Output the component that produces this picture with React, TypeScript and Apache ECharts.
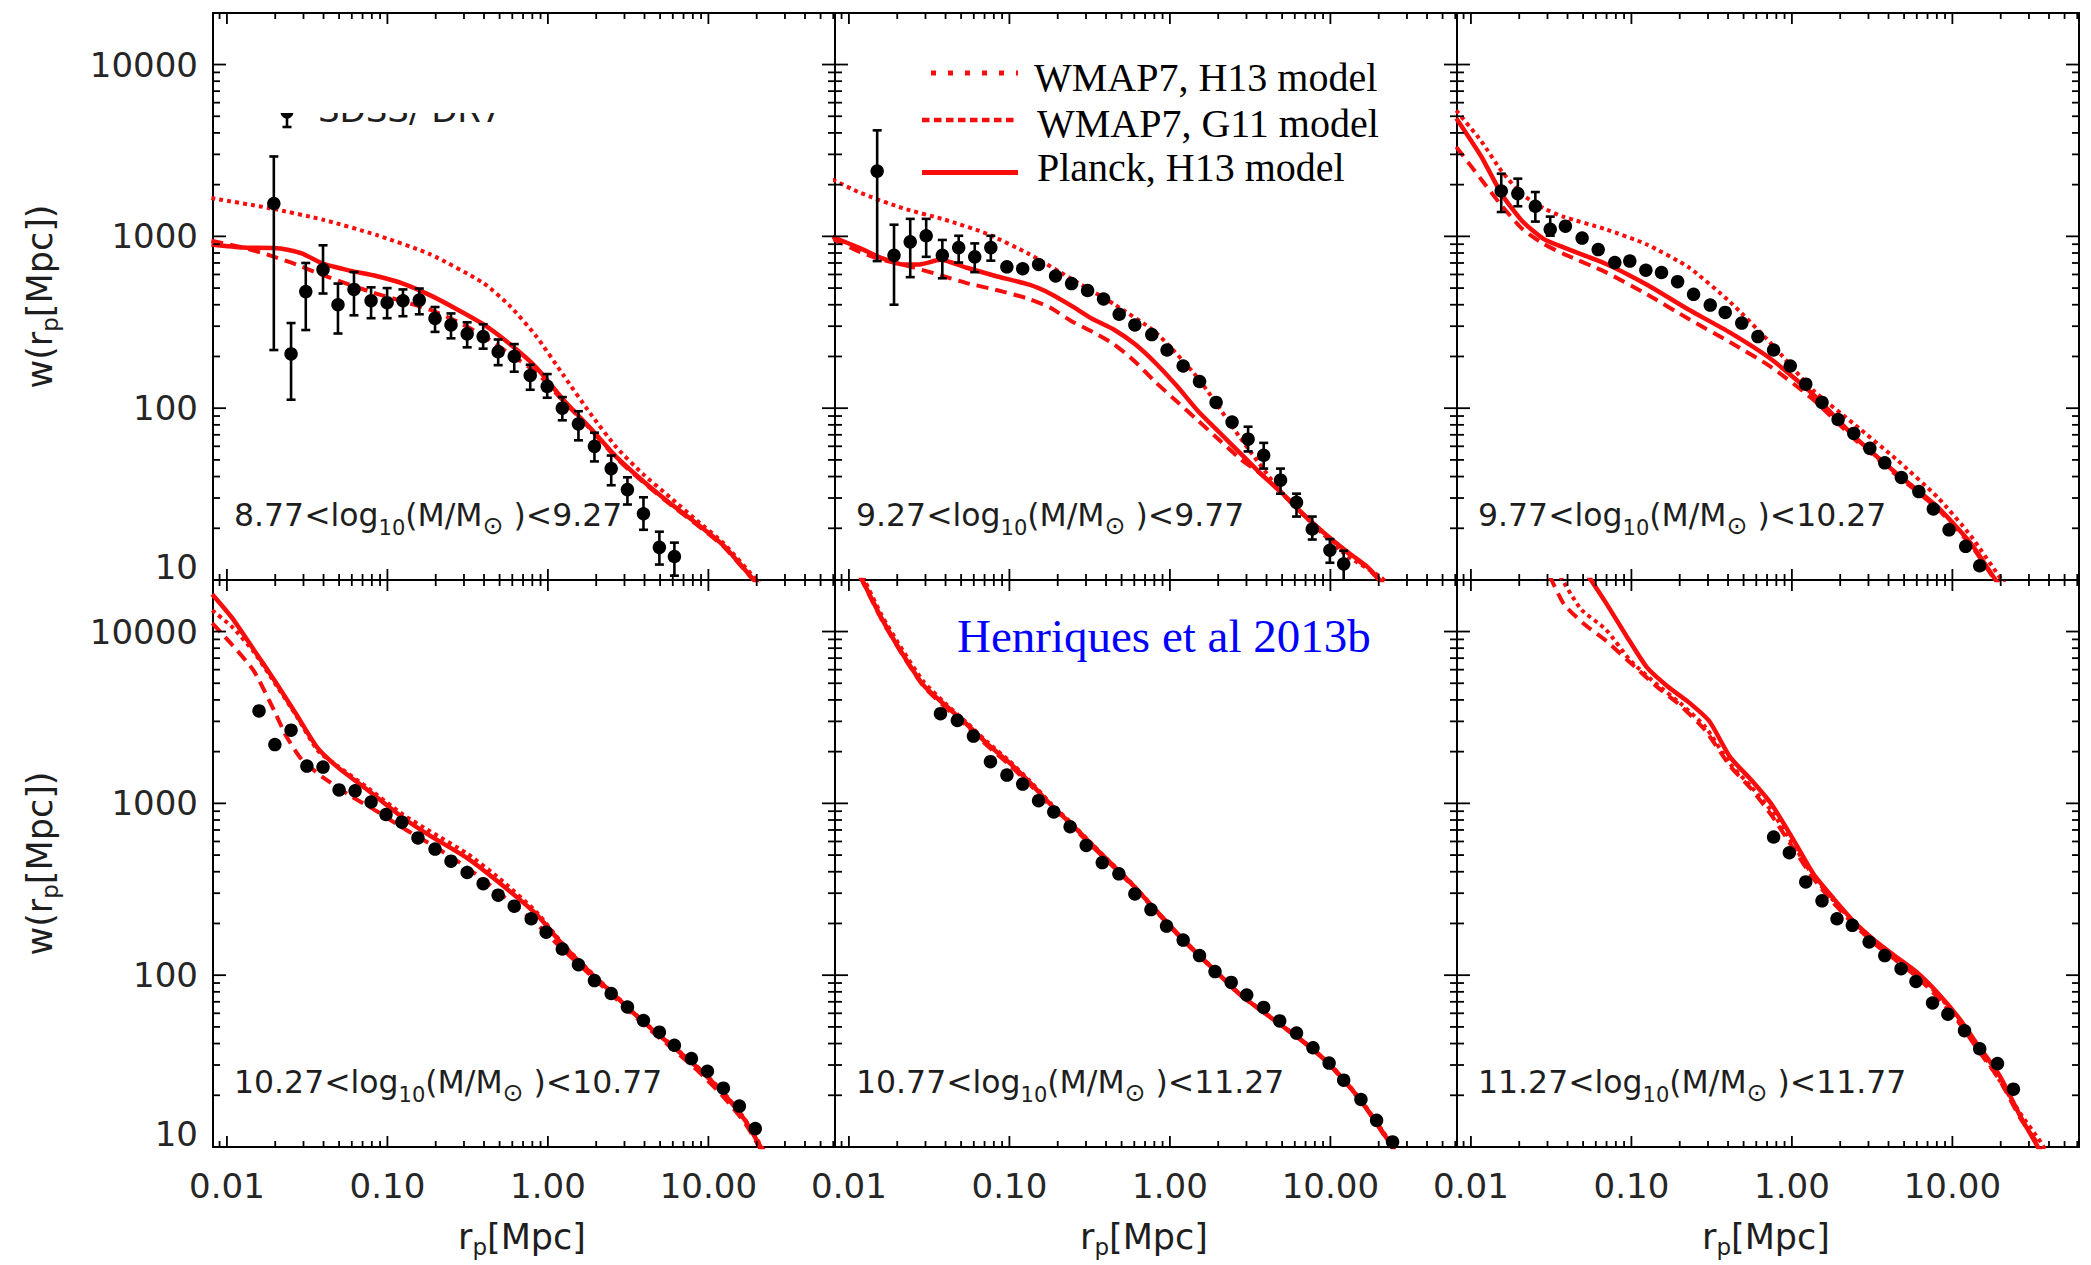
import React, { useEffect, useRef } from "react";
import * as echarts from "echarts";

// ---------- styling constants ----------
const RED = "#f80d0d";
const INK = "#1e1e1e";
const SANS = "'DejaVu Sans', 'Liberation Sans', sans-serif";
const SERIF = "'Liberation Serif', 'Times New Roman', serif";

// ---------- axes ----------
const X_MIN = 0.00819;
const X_MAX = 61.5;
const Y_MIN = 10;
const Y_MAX = 19950;
const X_TICK_LABELS = ["0.01", "0.10", "1.00", "10.00"];
const Y_TICK_LABELS = ["10", "100", "1000", "10000"];
const X_MAJOR = [0.01, 0.1, 1, 10];
const Y_MAJOR = [10, 100, 1000, 10000];

// ---------- panel labels ----------
const BIN_LO = ["8.77", "9.27", "9.77", "10.27", "10.77", "11.27"];
const BIN_HI = ["9.27", "9.77", "10.27", "10.77", "11.27", "11.77"];
const LEGEND_TEXT = ["WMAP7, H13 model", "WMAP7, G11 model", "Planck, H13 model"];
const CREDIT = "Henriques et al 2013b";
const DATA_LABEL = "SDSS/ DR7";

// ---------- panel 1 : 8.77-9.27 ----------
const P1_R = [0.0196, 0.0251, 0.031, 0.0397, 0.0492, 0.0619, 0.0791, 0.0996, 0.125, 0.158, 0.198, 0.249, 0.314, 0.395, 0.49, 0.617, 0.776, 0.99, 1.23, 1.55, 1.95, 2.48, 3.13, 3.94, 4.95, 6.14];
const P1_W = [1553, 207, 477, 641, 400, 491, 422, 411, 422, 426, 333, 305, 271, 261, 213, 200, 155, 134, 100, 81, 60, 44.5, 33.6, 24.3, 15.5, 13.7];
const P1_LO = [218, 112, 285, 465, 272, 347, 334, 334, 343, 352, 278, 255, 226, 222, 178, 163, 128, 115, 85, 65, 49, 35.6, 27.5, 19.6, 12.3, 10.6];
const P1_HI = [2917, 313, 700, 887, 531, 620, 505, 500, 491, 497, 388, 356, 316, 308, 251, 236, 179, 158, 116, 96, 72, 53, 39.6, 30.3, 19.1, 16.5];
const P1_DOT = [[0.008, 1670], [0.01845, 1459], [0.0397, 1250], [0.0853, 1019], [0.184, 788], [0.395, 536], [0.579, 394], [0.849, 261], [1.247, 156], [1.83, 93.6], [2.68, 59], [3.93, 41.2], [5.77, 30.3], [8.46, 22.2], [12.4, 16.4], [19.95, 10], [22, 9]];
const P1_DASH = [[0.008, 944], [0.0126, 860], [0.01845, 776], [0.027, 686], [0.0397, 594], [0.0582, 523], [0.0853, 464], [0.125, 419], [0.184, 374], [0.269, 321], [0.395, 264], [0.579, 207], [0.849, 161], [1.247, 110], [1.83, 76], [2.68, 51], [3.93, 37], [5.77, 27.6], [8.46, 21], [12.4, 15.7], [18.2, 10.5], [20.5, 9.4]];
const P1_SOLID = [[0.008, 896], [0.0126, 860], [0.0215, 851], [0.0292, 796], [0.0397, 693], [0.0582, 632], [0.0853, 588], [0.125, 531], [0.184, 455], [0.269, 378], [0.395, 308], [0.579, 236], [0.849, 172], [1.247, 112], [1.83, 77], [2.68, 51.9], [3.93, 37.6], [5.77, 28.0], [8.46, 21.3], [12.4, 15.9], [18.2, 10.6], [20.5, 9.5]];

// ---------- panel 2 : 9.27-9.77 ----------
const P2_R = [0.015, 0.0191, 0.0241, 0.0303, 0.0382, 0.0483, 0.0608, 0.0766, 0.0964, 0.121, 0.152, 0.194, 0.244, 0.307, 0.386, 0.483, 0.605, 0.771, 0.96, 1.21, 1.53, 1.94, 2.44, 3.07, 3.84, 4.89, 6.15, 7.71, 9.93, 12.1];
const P2_W = [2399, 776, 929, 1008, 776, 860, 760, 860, 665, 648, 686, 588, 531, 484, 432, 352, 305, 268, 218, 176, 143, 108, 83, 66, 53.2, 38.1, 28.3, 19.8, 14.9, 12.4];
const P2_LO = [718, 400, 579, 760, 570, 704, 619, 722, null, null, null, null, null, null, null, null, null, null, null, null, null, null, null, 56, 44.5, 31.8, 23.4, 17.2, 12.6, 9];
const P2_HI = [4140, 1169, 1264, 1264, 953, 1008, 910, 1008, null, null, null, null, null, null, null, null, null, null, null, null, null, null, null, 78, 62.8, 44.5, 31.8, 23.4, 17.3, 14.8];
const P2_DOT = [[0.0079, 2143], [0.01178, 1791], [0.0216, 1459], [0.0395, 1251], [0.0726, 1035], [0.133, 788], [0.244, 565], [0.447, 404], [0.819, 275], [1.5, 149], [2.75, 67], [5.04, 31.8], [9.25, 18.1], [12.5, 14.0], [20.9, 10.3], [23, 9.3]];
const P2_DASH = [[0.0079, 968], [0.01178, 809], [0.01596, 730], [0.0216, 686], [0.0372, 594], [0.0536, 536], [0.0819, 489], [0.133, 432], [0.18, 384], [0.244, 321], [0.33, 278], [0.447, 236], [0.605, 187], [0.819, 141], [1.11, 109], [1.5, 84.5], [2.03, 65.3], [2.75, 50.6], [3.72, 41.2], [5.04, 31.5], [6.83, 23.8], [9.25, 18.4], [12.5, 14.6], [16.9, 11.8], [20.3, 9.9], [22, 9.1]];
const P2_SOLID = [[0.0079, 993], [0.01178, 851], [0.01596, 748], [0.0216, 686], [0.0275, 686], [0.0372, 730], [0.0536, 659], [0.0819, 588], [0.133, 523], [0.18, 464], [0.244, 394], [0.33, 330], [0.447, 287], [0.605, 236], [0.819, 182], [1.11, 134], [1.5, 96], [2.03, 72.4], [2.75, 54.6], [3.72, 41.2], [5.04, 31.8], [6.83, 24], [9.25, 18.6], [12.5, 14.8], [16.9, 12], [20.3, 10], [22, 9.2]];

// ---------- panel 3 : 9.77-10.27 ----------
const P3_R = [0.01545, 0.0196, 0.0252, 0.0312, 0.0388, 0.0493, 0.0621, 0.0788, 0.0977, 0.123, 0.154, 0.194, 0.244, 0.31, 0.384, 0.487, 0.614, 0.769, 0.977, 1.22, 1.54, 1.94, 2.43, 3.06, 3.79, 4.81, 6.18, 7.61, 9.53, 12.1, 14.8];
const P3_W = [1837, 1774, 1497, 1099, 1146, 977, 838, 704, 718, 635, 616, 545, 460, 398, 361, 313, 261, 218, 176, 138, 108, 85.9, 71.3, 58.4, 48.1, 39.5, 32.7, 25.9, 19.6, 15.7, 12.1];
const P3_LO = [1386, 1497, 1219, 1009];
const P3_HI = [2316, 2167, 1811, 1303];
const P3_DOT = [[0.0081, 5405], [0.0116, 3581], [0.01563, 2376], [0.021, 1746], [0.0283, 1459], [0.0381, 1296], [0.0691, 1100], [0.125, 896], [0.228, 659], [0.412, 415], [0.747, 236], [1.36, 127], [2.46, 80.3], [4.45, 50.6], [8.08, 30.3], [13, 18.1], [20.3, 10], [22, 9.2]];
const P3_DASH = [[0.0081, 3318], [0.0116, 2145], [0.01563, 1497], [0.021, 1100], [0.0283, 905], [0.0381, 788], [0.0691, 619], [0.125, 460], [0.228, 330], [0.412, 242], [0.747, 173], [1.36, 112], [2.46, 66], [4.45, 41], [8.08, 26], [13, 16], [18.4, 10], [20, 9.1]];
const P3_SOLID = [[0.0081, 4875], [0.0116, 2917], [0.01563, 1746], [0.021, 1219], [0.0283, 968], [0.0381, 860], [0.0691, 693], [0.125, 523], [0.228, 374], [0.412, 275], [0.747, 192], [1.36, 120], [2.46, 68], [4.45, 42], [8.08, 26.6], [13, 16.4], [18.6, 10], [20, 9.2]];

// ---------- panel 4 : 10.27-10.77 ----------
const P4_R = [0.01585, 0.0199, 0.0251, 0.0315, 0.0397, 0.05, 0.0629, 0.0791, 0.098, 0.123, 0.155, 0.198, 0.249, 0.314, 0.395, 0.49, 0.617, 0.787, 0.975, 1.23, 1.55, 1.95, 2.48, 3.13, 3.94, 4.95, 6.14, 7.84, 9.86, 12.4, 15.6, 19.6];
const P4_W = [3451, 2198, 2666, 1648, 1627, 1198, 1183, 1018, 861, 777, 629, 542, 461, 396, 341, 292, 252, 213, 178, 142, 115, 93, 78.2, 65.3, 54.5, 46.6, 39.1, 32.7, 27.6, 22.0, 17.3, 12.8];
const P4_DOT = [[0.0081, 13300], [0.0108, 10620], [0.01466, 7640], [0.0199, 5010], [0.0271, 3230], [0.0368, 2032], [0.05, 1627], [0.0733, 1256], [0.125, 861], [0.184, 689], [0.314, 510], [0.498, 366], [0.849, 233], [1.247, 151], [1.83, 105], [2.68, 75], [3.93, 54], [5.77, 40], [8.46, 29.6], [12.4, 20.8], [16.9, 14.5], [21.2, 10.2], [22.5, 9.4]];
const P4_DASH = [[0.0081, 11200], [0.0108, 8350], [0.0147, 5900], [0.0199, 3400], [0.0232, 2500], [0.0292, 1803], [0.0397, 1417], [0.0582, 1114], [0.0853, 903], [0.125, 718], [0.184, 582], [0.269, 466], [0.395, 360], [0.579, 268], [0.849, 199], [1.247, 140], [1.83, 100.7], [2.68, 72.3], [3.93, 51.9], [5.77, 38.4], [8.46, 28.1], [12.4, 19.6], [16.9, 13.8], [20.9, 9.9], [22, 9.2]];
const P4_SOLID = [[0.0081, 16500], [0.0108, 11970], [0.01466, 7870], [0.0199, 5160], [0.0271, 3290], [0.0368, 2094], [0.05, 1598], [0.0733, 1219], [0.125, 825], [0.184, 649], [0.314, 480], [0.498, 345], [0.849, 226], [1.247, 149], [1.83, 104], [2.68, 74.5], [3.93, 53.5], [5.77, 39.6], [8.46, 29.3], [12.4, 20.5], [16.9, 14.3], [20.9, 10.2], [22, 9.4]];

// ---------- panel 5 : 10.77-11.27 ----------
const P5_R = [0.0372, 0.0474, 0.0597, 0.0762, 0.0965, 0.121, 0.152, 0.189, 0.239, 0.301, 0.379, 0.481, 0.605, 0.762, 0.953, 1.21, 1.53, 1.91, 2.41, 3.01, 3.84, 4.83, 6.15, 7.79, 9.82, 12.1, 15.5, 19.4, 24.4];
const P5_W = [3325, 3040, 2465, 1749, 1460, 1295, 1037, 892, 731, 569, 452, 389, 297, 241, 193, 160, 130, 105, 90.8, 76.7, 64.9, 54.2, 46.0, 37.8, 30.8, 24.5, 18.9, 14.3, 10.7];
const P5_DOT = [[0.0122, 21000], [0.01596, 12500], [0.0216, 7800], [0.0292, 5100], [0.0395, 3850], [0.0536, 2980], [0.0726, 2280], [0.0982, 1790], [0.133, 1360], [0.18, 1005], [0.244, 765], [0.33, 575], [0.447, 435], [0.605, 327], [0.819, 239], [1.11, 175], [1.5, 132], [2.03, 101], [2.75, 77], [3.72, 62.5], [5.04, 50.6], [6.83, 41], [9.25, 32.3], [12.5, 24], [16.9, 16.8], [24, 10.4], [25.5, 9.5]];
const P5_DASH = [[0.0117, 21000], [0.01596, 11800], [0.0216, 7300], [0.0292, 4800], [0.0395, 3650], [0.0536, 2850], [0.0726, 2170], [0.0982, 1700], [0.133, 1300], [0.18, 965], [0.244, 740], [0.33, 558], [0.447, 425], [0.605, 320], [0.819, 235], [1.11, 173], [1.5, 131], [2.03, 100], [2.75, 76.5], [3.72, 62], [5.04, 50.2], [6.83, 40.6], [9.25, 31.9], [12.5, 23.6], [16.9, 16.5], [23.6, 10.3], [25, 9.4]];
const P5_SOLID = [[0.0118, 21000], [0.01596, 11980], [0.0216, 7400], [0.0292, 4860], [0.0395, 3750], [0.0536, 2915], [0.0726, 2225], [0.0982, 1749], [0.133, 1334], [0.18, 988], [0.244, 754], [0.33, 569], [0.447, 431], [0.605, 325], [0.819, 238], [1.11, 175], [1.5, 132], [2.03, 100.7], [2.75, 76.8], [3.72, 62.2], [5.04, 50.4], [6.83, 40.8], [9.25, 32.1], [12.5, 23.8], [16.9, 16.6], [23.7, 10.4], [25, 9.5]];

// ---------- panel 6 : 11.27-11.77 ----------
const P6_R = [0.769, 0.964, 1.22, 1.54, 1.91, 2.38, 3.03, 3.79, 4.79, 5.93, 7.52, 9.37, 11.9, 14.8, 19.1, 24.0];
const P6_W = [637, 516, 349, 271, 213, 195, 156, 130, 109, 91.9, 68.9, 59.3, 47.5, 37.3, 30.6, 21.7];
const P6_DOT = [[0.036, 21000], [0.0484, 13520], [0.0691, 10300], [0.0989, 6760], [0.141, 5010], [0.202, 3820], [0.288, 2795], [0.412, 1698], [0.555, 1257], [0.747, 903], [1.006, 586], [1.36, 378], [1.82, 271], [2.46, 201], [4.45, 125], [8.08, 77.6], [14.6, 37.8], [26.5, 15.7], [35.7, 10.6], [38, 9.6]];
const P6_DASH = [[0.031, 21000], [0.0381, 14350], [0.0514, 10940], [0.0691, 8870], [0.0989, 6560], [0.141, 4860], [0.202, 3710], [0.288, 2665], [0.412, 1648], [0.555, 1219], [0.747, 851], [1.006, 558], [1.36, 366], [1.82, 263], [2.46, 195], [3.31, 151], [4.45, 122], [6.0, 97.7], [8.08, 74.5], [10.9, 53.5], [14.6, 36.2], [19.7, 24.5], [26.5, 14.7], [34.7, 10.2], [37, 9.2]];
const P6_SOLID = [[0.054, 21000], [0.0691, 14790], [0.0931, 9420], [0.125, 6180], [0.169, 4770], [0.228, 3870], [0.306, 3005], [0.412, 1858], [0.555, 1375], [0.747, 988], [1.006, 629], [1.36, 389], [1.82, 279], [2.46, 203], [3.31, 158], [4.45, 128], [6.0, 104], [8.08, 79.1], [10.9, 56.9], [14.6, 38.5], [19.7, 26.0], [26.5, 15.1], [33.7, 10.2], [36, 9.2]];

// ---------- layout ----------
const GRID_LEFT = [213, 835, 1457];
const GRID_TOP = [13, 580];
const GRID_W = 622;
const GRID_H = 567;

type Panel = {
  r: number[]; w: number[]; lo: (number | null)[]; hi: (number | null)[];
  dot: number[][]; dash: number[][]; solid: number[][];
};

const PANELS: Panel[] = [
  { r: P1_R, w: P1_W, lo: P1_LO, hi: P1_HI, dot: P1_DOT, dash: P1_DASH, solid: P1_SOLID },
  { r: P2_R, w: P2_W, lo: P2_LO, hi: P2_HI, dot: P2_DOT, dash: P2_DASH, solid: P2_SOLID },
  { r: P3_R, w: P3_W, lo: P3_LO, hi: P3_HI, dot: P3_DOT, dash: P3_DASH, solid: P3_SOLID },
  { r: P4_R, w: P4_W, lo: [], hi: [], dot: P4_DOT, dash: P4_DASH, solid: P4_SOLID },
  { r: P5_R, w: P5_W, lo: [], hi: [], dot: P5_DOT, dash: P5_DASH, solid: P5_SOLID },
  { r: P6_R, w: P6_W, lo: [], hi: [], dot: P6_DOT, dash: P6_DASH, solid: P6_SOLID },
];

function minorTicks(lo: number, hi: number): number[] {
  const out: number[] = [];
  for (let e = -3; e <= 5; e++) {
    for (let m = 2; m <= 9; m++) {
      const v = m * Math.pow(10, e);
      if (v > lo && v < hi) out.push(v);
    }
  }
  return out;
}

function buildOption() {
  const grids: any[] = [];
  const xAxes: any[] = [];
  const yAxes: any[] = [];
  const series: any[] = [];

  const tickData: number[][] = [];
  X_MAJOR.forEach((v) => tickData.push([v, Y_MIN, 1]));
  minorTicks(X_MIN, X_MAX).forEach((v) => tickData.push([v, Y_MIN, 0]));
  Y_MAJOR.forEach((v) => tickData.push([X_MIN, v, 3]));
  minorTicks(Y_MIN, Y_MAX).forEach((v) => tickData.push([X_MIN, v, 2]));

  const labelFont = { fontFamily: SANS, fontSize: 34, color: "#262626" };

  PANELS.forEach((p, i) => {
    const col = i % 3;
    const row = Math.floor(i / 3);
    grids.push({
      left: GRID_LEFT[col], top: GRID_TOP[row], width: GRID_W, height: GRID_H,
      show: true, borderColor: "#000", borderWidth: 2, backgroundColor: "rgba(0,0,0,0)",
      containLabel: false, outerBoundsMode: "none",
    });
    xAxes.push({
      type: "log", logBase: 10, gridIndex: i, min: X_MIN, max: X_MAX,
      axisLine: { show: false }, axisTick: { show: false }, splitLine: { show: false },
      axisLabel: {
        show: row === 1, margin: 22, ...labelFont,
        formatter: (v: number) => {
          const lg = Math.log10(v);
          const k = Math.round(lg);
          if (Math.abs(lg - k) > 0.01) return "";
          return X_TICK_LABELS[k + 2] ?? "";
        },
      },
    });
    yAxes.push({
      type: "log", logBase: 10, gridIndex: i, min: Y_MIN, max: Y_MAX,
      axisLine: { show: false }, axisTick: { show: false }, splitLine: { show: false },
      axisLabel: {
        show: col === 0, margin: 15, ...labelFont,
        formatter: (v: number) => {
          const lg = Math.log10(v);
          const k = Math.round(lg);
          if (Math.abs(lg - k) > 0.01) return "";
          const t = Y_TICK_LABELS[k - 1] ?? "";
          return k === 1 ? "{b|" + t + "}" : t;
        },
        rich: { b: { ...labelFont, padding: [0, 0, 26, 0] } },
      },
    });

    const lineBase = { type: "line", xAxisIndex: i, yAxisIndex: i, symbol: "none", showSymbol: false, smooth: 0.2, clip: true, silent: true, z: 3 };
    series.push({ ...lineBase, name: LEGEND_TEXT[0], data: p.dot, lineStyle: { color: RED, width: 4, type: [4, 4], cap: "butt" } });
    series.push({ ...lineBase, name: LEGEND_TEXT[1], data: p.dash, lineStyle: { color: RED, width: 4, type: [12, 7], cap: "butt" } });
    series.push({ ...lineBase, name: LEGEND_TEXT[2], data: p.solid, lineStyle: { color: RED, width: 4.5, type: "solid" } });

    const err: number[][] = [];
    p.r.forEach((r, k) => {
      const lo = p.lo[k];
      const hi = p.hi[k];
      if (lo != null && hi != null) err.push([r, lo, hi]);
    });
    if (err.length) {
      series.push({
        type: "custom", xAxisIndex: i, yAxisIndex: i, clip: true, silent: true, z: 4,
        encode: { x: 0, y: [1, 2] },
        data: err,
        renderItem: (params: any, api: any) => {
          const x = api.value(0);
          const a = api.coord([x, api.value(1)]);
          const b = api.coord([x, api.value(2)]);
          const cap = 4.5;
          const st = { stroke: "#000", lineWidth: 2.6 };
          return {
            type: "group",
            children: [
              { type: "line", shape: { x1: a[0], y1: a[1], x2: b[0], y2: b[1] }, style: st },
              { type: "line", shape: { x1: a[0] - cap, y1: a[1], x2: a[0] + cap, y2: a[1] }, style: st },
              { type: "line", shape: { x1: b[0] - cap, y1: b[1], x2: b[0] + cap, y2: b[1] }, style: st },
            ],
          };
        },
      });
    }

    series.push({
      type: "scatter", xAxisIndex: i, yAxisIndex: i, name: DATA_LABEL, silent: true, z: 5,
      symbol: "circle", symbolSize: 13.5, itemStyle: { color: "#000", opacity: 1 },
      data: p.r.map((r, k) => [r, p.w[k]]),
    });

    series.push({
      type: "custom", xAxisIndex: i, yAxisIndex: i, silent: true, z: 6,
      encode: { x: 0, y: 1 },
      data: tickData,
      renderItem: (params: any, api: any) => {
        const kind = api.value(2);
        const cs = params.coordSys;
        const pt = api.coord([api.value(0), api.value(1)]);
        const st = { stroke: "#000", lineWidth: 1.8 };
        if (kind < 2) {
          const len = kind === 1 ? 11 : 6;
          const bot = cs.y + cs.height;
          return {
            type: "group",
            children: [
              { type: "line", shape: { x1: pt[0], y1: bot, x2: pt[0], y2: bot - len }, style: st },
              { type: "line", shape: { x1: pt[0], y1: cs.y, x2: pt[0], y2: cs.y + len }, style: st },
            ],
          };
        }
        const len = kind === 3 ? 13 : 7;
        const right = cs.x + cs.width;
        return {
          type: "group",
          children: [
            { type: "line", shape: { x1: cs.x, y1: pt[1], x2: cs.x + len, y2: pt[1] }, style: st },
            { type: "line", shape: { x1: right, y1: pt[1], x2: right - len, y2: pt[1] }, style: st },
          ],
        };
      },
    });
  });

  // ---------- graphic: texts, legend ----------
  const elements: any[] = [];
  const annRich = {
    n: { fontFamily: SANS, fontSize: 31.5, fill: INK, lineHeight: 46 },
    s: { fontFamily: SANS, fontSize: 21, fill: INK, verticalAlign: "bottom", lineHeight: 24 },
    o: { fontFamily: SANS, fontSize: 25, fill: INK, verticalAlign: "bottom", lineHeight: 26 },
  };
  for (let i = 0; i < 6; i++) {
    const col = i % 3;
    const row = Math.floor(i / 3);
    elements.push({
      type: "text", z: 100,
      x: GRID_LEFT[col] + 21, y: GRID_TOP[row] + 502,
      style: {
        text: "{n|" + BIN_LO[i] + "<log}{s|10}{n|(M/M}{o|\u2299}{n| )<" + BIN_HI[i] + "}",
        rich: annRich, align: "left", verticalAlign: "middle", textAlign: "left", textVerticalAlign: "middle",
      },
    });
  }

  const titleRich = {
    n: { fontFamily: SANS, fontSize: 35, fill: INK, lineHeight: 42 },
    s: { fontFamily: SANS, fontSize: 23, fill: INK, verticalAlign: "bottom", lineHeight: 26 },
  };
  GRID_TOP.forEach((t) => {
    elements.push({
      type: "text", z: 100, x: 40, y: t + GRID_H / 2, rotation: Math.PI / 2,
      style: { text: "{n|w(r}{s|p}{n|[Mpc])}", rich: titleRich, align: "center", verticalAlign: "middle", textAlign: "center", textVerticalAlign: "middle" },
    });
  });
  GRID_LEFT.forEach((l) => {
    elements.push({
      type: "text", z: 100, x: l + GRID_W / 2 - 2, y: 1237,
      style: { text: "{n|r}{s|p}{n|[Mpc]}", rich: titleRich, align: "center", verticalAlign: "middle", textAlign: "center", textVerticalAlign: "middle" },
    });
  });

  // legend (panel 2)
  const legY = [73, 120, 172.5];
  const legStyles = [
    { lineDash: [5, 12], lineWidth: 5, x1: 931 },
    { lineDash: [7.5, 4.5], lineWidth: 4.5, x1: 922 },
    { lineDash: null, lineWidth: 4.8, x1: 922 },
  ];
  const legTextY = [77, 123.5, 167];
  const legTextX = [1034, 1037, 1037];
  legStyles.forEach((s, k) => {
    elements.push({
      type: "line", z: 100,
      shape: { x1: s.x1, y1: legY[k], x2: 1018, y2: legY[k] },
      style: { stroke: RED, lineWidth: s.lineWidth, lineDash: s.lineDash, lineCap: "butt" },
    });
    elements.push({
      type: "text", z: 100, x: legTextX[k], y: legTextY[k],
      style: { text: LEGEND_TEXT[k], fontFamily: SERIF, fontSize: 40, fill: "#000", align: "left", verticalAlign: "middle", textAlign: "left", textVerticalAlign: "middle" },
    });
  });

  // credit
  elements.push({
    type: "text", z: 100, x: 957, y: 636,
    style: { text: CREDIT, fontFamily: SERIF, fontSize: 47, fill: "#0000ff", align: "left", verticalAlign: "middle", textAlign: "left", textVerticalAlign: "middle" },
  });

  // SDSS/DR7 legend entry, upper part hidden
  elements.push({
    type: "text", z: 100, x: 318, y: 110,
    style: { text: DATA_LABEL, fontFamily: SANS, fontSize: 34, fill: INK, align: "left", verticalAlign: "middle", textAlign: "left", textVerticalAlign: "middle" },
  });
  elements.push({ type: "line", z: 100, shape: { x1: 287, y1: 104, x2: 287, y2: 127 }, style: { stroke: "#000", lineWidth: 2.6 } });
  elements.push({ type: "line", z: 100, shape: { x1: 282.5, y1: 127, x2: 291.5, y2: 127 }, style: { stroke: "#000", lineWidth: 2.6 } });
  elements.push({ type: "circle", z: 100, shape: { cx: 287, cy: 112, r: 6.5 }, style: { fill: "#000" } });
  elements.push({ type: "rect", z: 101, shape: { x: 272, y: 60, width: 250, height: 53 }, style: { fill: "#fff" } });

  return {
    animation: false,
    backgroundColor: "#ffffff",
    grid: grids,
    xAxis: xAxes,
    yAxis: yAxes,
    series,
    graphic: { elements },
  };
}

export default function App() {
  const ref = useRef<HTMLDivElement>(null);
  useEffect(() => {
    document.body.style.margin = "0";
    if (!ref.current) return;
    const chart = echarts.init(ref.current, undefined, { renderer: "svg" });
    chart.setOption(buildOption() as any);
    return () => chart.dispose();
  }, []);
  return <div ref={ref} style={{ width: 2091, height: 1265, background: "#fff" }} />;
}
